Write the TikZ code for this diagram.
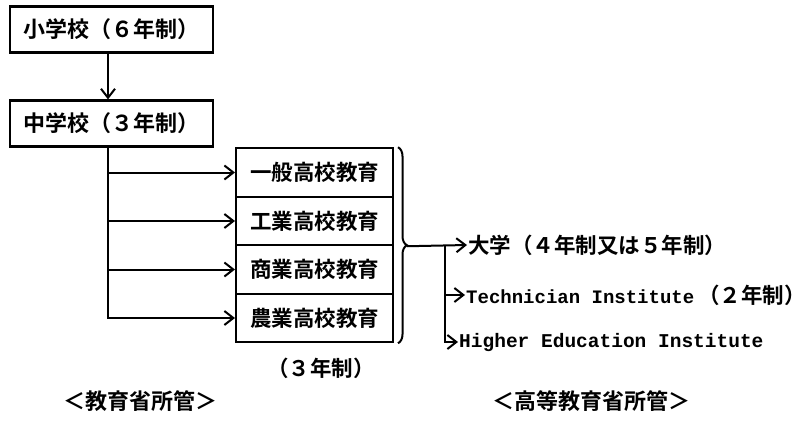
\documentclass[tikz,border=0pt]{standalone}
\usepackage{fontspec}
\setmainfont{Noto Sans CJK JP Bold}
\newfontfamily\jp{Noto Sans CJK JP Bold}
\newfontfamily\lat{Liberation Mono Bold}
\usetikzlibrary{arrows.meta,decorations.pathreplacing,calc}
\tikzset{
  boxa/.style={draw,line width=2.2pt,minimum width=203pt,minimum height=46pt,inner sep=0pt,font=\jp\fontsize{22pt}{22pt}\selectfont},
  cell/.style={draw,line width=2pt,minimum width=157pt,minimum height=48.5pt,inner sep=0pt,font=\jp\fontsize{21.5pt}{21.5pt}\selectfont},
  lbl/.style={inner sep=1pt,font=\jp\fontsize{21.5pt}{21.5pt}\selectfont},
  big/.style={inner sep=0pt,font=\jp\fontsize{22pt}{22pt}\selectfont},
  conn/.style={line width=2pt},
  arr/.style={conn,-{Straight Barb[length=9pt,width=14pt,line width=2pt]}}
}
\begin{document}
\begin{tikzpicture}[x=1pt,y=-1pt]
\useasboundingbox (0,0) rectangle (811,428);
\node[boxa] (b1) at (111.5,29.5) {小学校（６年制）};
\node[boxa] (b2) at (111.5,123.5) {中学校（３年制）};
\draw[arr] (b1.south -| 108,0) -- (b2.north -| 108,0);

\node[cell] (c1) at (314.5,172.5) {一般高校教育};
\node[cell] (c2) at (314.5,221) {工業高校教育};
\node[cell] (c3) at (314.5,269.5) {商業高校教育};
\node[cell] (c4) at (314.5,318) {農業高校教育};

\coordinate (sp) at (b2.south -| 108,0);
\draw[arr] (sp) |- (c4.west);
\draw[arr] (sp |- c1.west) -- (c1.west);
\draw[arr] (sp |- c2.west) -- (c2.west);
\draw[arr] (sp |- c3.west) -- (c3.west);

\draw[line width=2pt,decorate,decoration={brace,amplitude=9pt}] ($(c1.north east)+(4,0)$) -- ($(c4.south east)+(4,0)$);
\coordinate (bt) at ($(c2.south east)+(13,0)$);

\node[lbl,anchor=west] (t1) at (467,245) {大学（４年制又は５年制）};
\node[lbl,anchor=west] (t2) at (465,295) {{\lat\fontsize{19pt}{19pt}\selectfont Technician Institute}\hspace{4pt}（２年制）};
\node[lbl,anchor=west] (t3) at (458,342) {\lat\fontsize{19.5pt}{19.5pt}\selectfont Higher Education Institute};
\coordinate (j) at (445,245);
\draw[arr] (bt) -- (t1.west);
\draw[arr] (j) |- (t2.west);
\draw[arr] (j) |- (t3.west);

\node[lbl] (y3) at (321,368) {（３年制）};
\node[big] (m1) at (140,401) {＜教育省所管＞};
\node[big] (m2) at (591,401) {＜高等教育省所管＞};
\end{tikzpicture}
\end{document}
